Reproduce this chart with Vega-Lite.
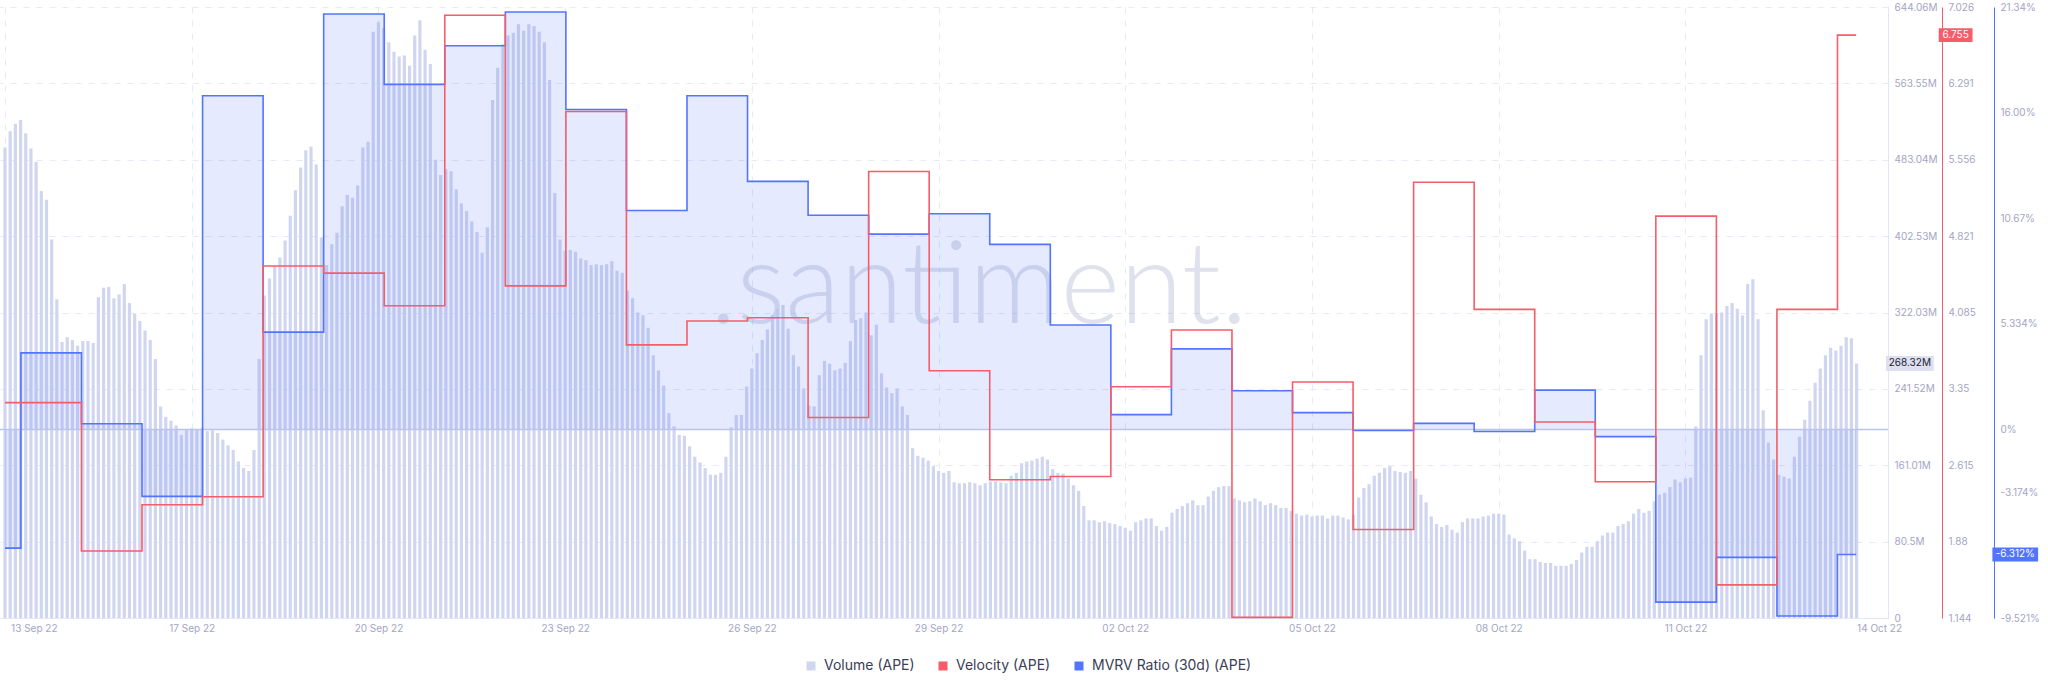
{
  "$schema": "https://vega.github.io/schema/vega-lite/v6.json",
  "width": 1888,
  "height": 611,
  "autosize": {"type": "none"},
  "padding": {"left": 0, "top": 7, "right": 160, "bottom": 75},
  "background": "white",
  "config": {
    "view": {"stroke": null},
    "font": "Inter",
    "axis": {"labelFont": "Inter", "labelFontSize": 10, "labelColor": "#a4a5c5", "ticks": false, "title": null, "domainColor": "#e3e6f5", "gridColor": "#e6e9f6", "gridDash": [6, 7]}
  },
  "datasets": {
    "volume": [
      {"t":"2022-09-14T00:00","v":496},{"t":"2022-09-14T02:00","v":513},{"t":"2022-09-14T04:00","v":521},{"t":"2022-09-14T06:00","v":525},{"t":"2022-09-14T08:00","v":511},{"t":"2022-09-14T10:00","v":495},{"t":"2022-09-14T12:00","v":481},{"t":"2022-09-14T14:00","v":450},{"t":"2022-09-14T16:00","v":441},{"t":"2022-09-14T18:00","v":399},{"t":"2022-09-14T20:00","v":336},{"t":"2022-09-14T22:00","v":291},
      {"t":"2022-09-15T00:00","v":296},{"t":"2022-09-15T02:00","v":293},{"t":"2022-09-15T04:00","v":287},{"t":"2022-09-15T06:00","v":292},{"t":"2022-09-15T08:00","v":292},{"t":"2022-09-15T10:00","v":290},{"t":"2022-09-15T12:00","v":338},{"t":"2022-09-15T14:00","v":348},{"t":"2022-09-15T16:00","v":349},{"t":"2022-09-15T18:00","v":337},{"t":"2022-09-15T20:00","v":341},{"t":"2022-09-15T22:00","v":352},
      {"t":"2022-09-16T00:00","v":332},{"t":"2022-09-16T02:00","v":321},{"t":"2022-09-16T04:00","v":313},{"t":"2022-09-16T06:00","v":303},{"t":"2022-09-16T08:00","v":293},{"t":"2022-09-16T10:00","v":273},{"t":"2022-09-16T12:00","v":223},{"t":"2022-09-16T14:00","v":212},{"t":"2022-09-16T16:00","v":208},{"t":"2022-09-16T18:00","v":203},{"t":"2022-09-16T20:00","v":193},{"t":"2022-09-16T22:00","v":198},
      {"t":"2022-09-17T00:00","v":200},{"t":"2022-09-17T02:00","v":199},{"t":"2022-09-17T04:00","v":200},{"t":"2022-09-17T06:00","v":197},{"t":"2022-09-17T08:00","v":198},{"t":"2022-09-17T10:00","v":195},{"t":"2022-09-17T12:00","v":188},{"t":"2022-09-17T14:00","v":182},{"t":"2022-09-17T16:00","v":177},{"t":"2022-09-17T18:00","v":165},{"t":"2022-09-17T20:00","v":158},{"t":"2022-09-17T22:00","v":155},
      {"t":"2022-09-18T00:00","v":177},{"t":"2022-09-18T02:00","v":273},{"t":"2022-09-18T04:00","v":340},{"t":"2022-09-18T06:00","v":358},{"t":"2022-09-18T08:00","v":371},{"t":"2022-09-18T10:00","v":380},{"t":"2022-09-18T12:00","v":398},{"t":"2022-09-18T14:00","v":424},{"t":"2022-09-18T16:00","v":451},{"t":"2022-09-18T18:00","v":475},{"t":"2022-09-18T20:00","v":493},{"t":"2022-09-18T22:00","v":497},
      {"t":"2022-09-19T00:00","v":478},{"t":"2022-09-19T02:00","v":401},{"t":"2022-09-19T04:00","v":372},{"t":"2022-09-19T06:00","v":394},{"t":"2022-09-19T08:00","v":406},{"t":"2022-09-19T10:00","v":434},{"t":"2022-09-19T12:00","v":446},{"t":"2022-09-19T14:00","v":443},{"t":"2022-09-19T16:00","v":456},{"t":"2022-09-19T18:00","v":496},{"t":"2022-09-19T20:00","v":502},{"t":"2022-09-19T22:00","v":618},
      {"t":"2022-09-20T00:00","v":628},{"t":"2022-09-20T02:00","v":622},{"t":"2022-09-20T04:00","v":607},{"t":"2022-09-20T06:00","v":597},{"t":"2022-09-20T08:00","v":592},{"t":"2022-09-20T10:00","v":593},{"t":"2022-09-20T12:00","v":582},{"t":"2022-09-20T14:00","v":614},{"t":"2022-09-20T16:00","v":630},{"t":"2022-09-20T18:00","v":599},{"t":"2022-09-20T20:00","v":584},{"t":"2022-09-20T22:00","v":483},
      {"t":"2022-09-21T00:00","v":467},{"t":"2022-09-21T02:00","v":473},{"t":"2022-09-21T04:00","v":471},{"t":"2022-09-21T06:00","v":452},{"t":"2022-09-21T08:00","v":437},{"t":"2022-09-21T10:00","v":429},{"t":"2022-09-21T12:00","v":418},{"t":"2022-09-21T14:00","v":407},{"t":"2022-09-21T16:00","v":385},{"t":"2022-09-21T18:00","v":412},{"t":"2022-09-21T20:00","v":546},{"t":"2022-09-21T22:00","v":580},
      {"t":"2022-09-22T00:00","v":605},{"t":"2022-09-22T02:00","v":614},{"t":"2022-09-22T04:00","v":617},{"t":"2022-09-22T06:00","v":626},{"t":"2022-09-22T08:00","v":619},{"t":"2022-09-22T10:00","v":626},{"t":"2022-09-22T12:00","v":624},{"t":"2022-09-22T14:00","v":618},{"t":"2022-09-22T16:00","v":607},{"t":"2022-09-22T18:00","v":567},{"t":"2022-09-22T20:00","v":448},{"t":"2022-09-22T22:00","v":399},
      {"t":"2022-09-23T00:00","v":387},{"t":"2022-09-23T02:00","v":388},{"t":"2022-09-23T04:00","v":386},{"t":"2022-09-23T06:00","v":379},{"t":"2022-09-23T08:00","v":377},{"t":"2022-09-23T10:00","v":372},{"t":"2022-09-23T12:00","v":373},{"t":"2022-09-23T14:00","v":372},{"t":"2022-09-23T16:00","v":373},{"t":"2022-09-23T18:00","v":376},{"t":"2022-09-23T20:00","v":366},{"t":"2022-09-23T22:00","v":364},
      {"t":"2022-09-24T00:00","v":345},{"t":"2022-09-24T02:00","v":337},{"t":"2022-09-24T04:00","v":322},{"t":"2022-09-24T06:00","v":319},{"t":"2022-09-24T08:00","v":306},{"t":"2022-09-24T10:00","v":277},{"t":"2022-09-24T12:00","v":261},{"t":"2022-09-24T14:00","v":245},{"t":"2022-09-24T16:00","v":216},{"t":"2022-09-24T18:00","v":202},{"t":"2022-09-24T20:00","v":193},{"t":"2022-09-24T22:00","v":192},
      {"t":"2022-09-25T00:00","v":181},{"t":"2022-09-25T02:00","v":170},{"t":"2022-09-25T04:00","v":164},{"t":"2022-09-25T06:00","v":158},{"t":"2022-09-25T08:00","v":151},{"t":"2022-09-25T10:00","v":151},{"t":"2022-09-25T12:00","v":153},{"t":"2022-09-25T14:00","v":170},{"t":"2022-09-25T16:00","v":201},{"t":"2022-09-25T18:00","v":214},{"t":"2022-09-25T20:00","v":214},{"t":"2022-09-25T22:00","v":244},
      {"t":"2022-09-26T00:00","v":263},{"t":"2022-09-26T02:00","v":279},{"t":"2022-09-26T04:00","v":293},{"t":"2022-09-26T06:00","v":304},{"t":"2022-09-26T08:00","v":319},{"t":"2022-09-26T10:00","v":326},{"t":"2022-09-26T12:00","v":330},{"t":"2022-09-26T14:00","v":305},{"t":"2022-09-26T16:00","v":277},{"t":"2022-09-26T18:00","v":265},{"t":"2022-09-26T20:00","v":242},{"t":"2022-09-26T22:00","v":224},
      {"t":"2022-09-27T00:00","v":223},{"t":"2022-09-27T02:00","v":256},{"t":"2022-09-27T04:00","v":271},{"t":"2022-09-27T06:00","v":268},{"t":"2022-09-27T08:00","v":261},{"t":"2022-09-27T10:00","v":263},{"t":"2022-09-27T12:00","v":269},{"t":"2022-09-27T14:00","v":292},{"t":"2022-09-27T16:00","v":314},{"t":"2022-09-27T18:00","v":316},{"t":"2022-09-27T20:00","v":322},{"t":"2022-09-27T22:00","v":298},
      {"t":"2022-09-28T00:00","v":309},{"t":"2022-09-28T02:00","v":258},{"t":"2022-09-28T04:00","v":243},{"t":"2022-09-28T06:00","v":237},{"t":"2022-09-28T08:00","v":242},{"t":"2022-09-28T10:00","v":223},{"t":"2022-09-28T12:00","v":214},{"t":"2022-09-28T14:00","v":179},{"t":"2022-09-28T16:00","v":171},{"t":"2022-09-28T18:00","v":169},{"t":"2022-09-28T20:00","v":166},{"t":"2022-09-28T22:00","v":160},
      {"t":"2022-09-29T00:00","v":155},{"t":"2022-09-29T02:00","v":153},{"t":"2022-09-29T04:00","v":155},{"t":"2022-09-29T06:00","v":143},{"t":"2022-09-29T08:00","v":142},{"t":"2022-09-29T10:00","v":142},{"t":"2022-09-29T12:00","v":143},{"t":"2022-09-29T14:00","v":142},{"t":"2022-09-29T16:00","v":140},{"t":"2022-09-29T18:00","v":142},{"t":"2022-09-29T20:00","v":144},{"t":"2022-09-29T22:00","v":144},
      {"t":"2022-09-30T00:00","v":143},{"t":"2022-09-30T02:00","v":142},{"t":"2022-09-30T04:00","v":150},{"t":"2022-09-30T06:00","v":153},{"t":"2022-09-30T08:00","v":163},{"t":"2022-09-30T10:00","v":165},{"t":"2022-09-30T12:00","v":166},{"t":"2022-09-30T14:00","v":168},{"t":"2022-09-30T16:00","v":170},{"t":"2022-09-30T18:00","v":167},{"t":"2022-09-30T20:00","v":157},{"t":"2022-09-30T22:00","v":153},
      {"t":"2022-10-01T00:00","v":152},{"t":"2022-10-01T02:00","v":147},{"t":"2022-10-01T04:00","v":140},{"t":"2022-10-01T06:00","v":134},{"t":"2022-10-01T08:00","v":118},{"t":"2022-10-01T10:00","v":103},{"t":"2022-10-01T12:00","v":103},{"t":"2022-10-01T14:00","v":101},{"t":"2022-10-01T16:00","v":102},{"t":"2022-10-01T18:00","v":100},{"t":"2022-10-01T20:00","v":99},{"t":"2022-10-01T22:00","v":97},
      {"t":"2022-10-02T00:00","v":95},{"t":"2022-10-02T02:00","v":92},{"t":"2022-10-02T04:00","v":101},{"t":"2022-10-02T06:00","v":103},{"t":"2022-10-02T08:00","v":105},{"t":"2022-10-02T10:00","v":105},{"t":"2022-10-02T12:00","v":97},{"t":"2022-10-02T14:00","v":92},{"t":"2022-10-02T16:00","v":96},{"t":"2022-10-02T18:00","v":111},{"t":"2022-10-02T20:00","v":115},{"t":"2022-10-02T22:00","v":118},
      {"t":"2022-10-03T00:00","v":121},{"t":"2022-10-03T02:00","v":124},{"t":"2022-10-03T04:00","v":119},{"t":"2022-10-03T06:00","v":119},{"t":"2022-10-03T08:00","v":128},{"t":"2022-10-03T10:00","v":134},{"t":"2022-10-03T12:00","v":138},{"t":"2022-10-03T14:00","v":139},{"t":"2022-10-03T16:00","v":139},{"t":"2022-10-03T18:00","v":126},{"t":"2022-10-03T20:00","v":124},{"t":"2022-10-03T22:00","v":122},
      {"t":"2022-10-04T00:00","v":123},{"t":"2022-10-04T02:00","v":126},{"t":"2022-10-04T04:00","v":123},{"t":"2022-10-04T06:00","v":119},{"t":"2022-10-04T08:00","v":121},{"t":"2022-10-04T10:00","v":119},{"t":"2022-10-04T12:00","v":116},{"t":"2022-10-04T14:00","v":116},{"t":"2022-10-04T16:00","v":113},{"t":"2022-10-04T18:00","v":110},{"t":"2022-10-04T20:00","v":108},{"t":"2022-10-04T22:00","v":109},
      {"t":"2022-10-05T00:00","v":107},{"t":"2022-10-05T02:00","v":108},{"t":"2022-10-05T04:00","v":108},{"t":"2022-10-05T06:00","v":105},{"t":"2022-10-05T08:00","v":108},{"t":"2022-10-05T10:00","v":108},{"t":"2022-10-05T12:00","v":106},{"t":"2022-10-05T14:00","v":104},{"t":"2022-10-05T16:00","v":109},{"t":"2022-10-05T18:00","v":127},{"t":"2022-10-05T20:00","v":137},{"t":"2022-10-05T22:00","v":141},
      {"t":"2022-10-06T00:00","v":150},{"t":"2022-10-06T02:00","v":153},{"t":"2022-10-06T04:00","v":158},{"t":"2022-10-06T06:00","v":160},{"t":"2022-10-06T08:00","v":155},{"t":"2022-10-06T10:00","v":154},{"t":"2022-10-06T12:00","v":153},{"t":"2022-10-06T14:00","v":155},{"t":"2022-10-06T16:00","v":147},{"t":"2022-10-06T18:00","v":130},{"t":"2022-10-06T20:00","v":122},{"t":"2022-10-06T22:00","v":107},
      {"t":"2022-10-07T00:00","v":99},{"t":"2022-10-07T02:00","v":96},{"t":"2022-10-07T04:00","v":98},{"t":"2022-10-07T06:00","v":93},{"t":"2022-10-07T08:00","v":90},{"t":"2022-10-07T10:00","v":101},{"t":"2022-10-07T12:00","v":105},{"t":"2022-10-07T14:00","v":105},{"t":"2022-10-07T16:00","v":105},{"t":"2022-10-07T18:00","v":107},{"t":"2022-10-07T20:00","v":108},{"t":"2022-10-07T22:00","v":110},
      {"t":"2022-10-08T00:00","v":110},{"t":"2022-10-08T02:00","v":109},{"t":"2022-10-08T04:00","v":88},{"t":"2022-10-08T06:00","v":84},{"t":"2022-10-08T08:00","v":81},{"t":"2022-10-08T10:00","v":71},{"t":"2022-10-08T12:00","v":62},{"t":"2022-10-08T14:00","v":62},{"t":"2022-10-08T16:00","v":59},{"t":"2022-10-08T18:00","v":58},{"t":"2022-10-08T20:00","v":58},{"t":"2022-10-08T22:00","v":55},
      {"t":"2022-10-09T00:00","v":55},{"t":"2022-10-09T02:00","v":55},{"t":"2022-10-09T04:00","v":57},{"t":"2022-10-09T06:00","v":61},{"t":"2022-10-09T08:00","v":69},{"t":"2022-10-09T10:00","v":75},{"t":"2022-10-09T12:00","v":75},{"t":"2022-10-09T14:00","v":81},{"t":"2022-10-09T16:00","v":87},{"t":"2022-10-09T18:00","v":90},{"t":"2022-10-09T20:00","v":90},{"t":"2022-10-09T22:00","v":97},
      {"t":"2022-10-10T00:00","v":99},{"t":"2022-10-10T02:00","v":102},{"t":"2022-10-10T04:00","v":110},{"t":"2022-10-10T06:00","v":115},{"t":"2022-10-10T08:00","v":111},{"t":"2022-10-10T10:00","v":113},{"t":"2022-10-10T12:00","v":123},{"t":"2022-10-10T14:00","v":130},{"t":"2022-10-10T16:00","v":132},{"t":"2022-10-10T18:00","v":138},{"t":"2022-10-10T20:00","v":146},{"t":"2022-10-10T22:00","v":143},
      {"t":"2022-10-11T00:00","v":147},{"t":"2022-10-11T02:00","v":148},{"t":"2022-10-11T04:00","v":202},{"t":"2022-10-11T06:00","v":277},{"t":"2022-10-11T08:00","v":315},{"t":"2022-10-11T10:00","v":321},{"t":"2022-10-11T12:00","v":321},{"t":"2022-10-11T14:00","v":322},{"t":"2022-10-11T16:00","v":329},{"t":"2022-10-11T18:00","v":332},{"t":"2022-10-11T20:00","v":326},{"t":"2022-10-11T22:00","v":319},
      {"t":"2022-10-12T00:00","v":352},{"t":"2022-10-12T02:00","v":357},{"t":"2022-10-12T04:00","v":315},{"t":"2022-10-12T06:00","v":219},{"t":"2022-10-12T08:00","v":185},{"t":"2022-10-12T10:00","v":167},{"t":"2022-10-12T12:00","v":151},{"t":"2022-10-12T14:00","v":149},{"t":"2022-10-12T16:00","v":147},{"t":"2022-10-12T18:00","v":170},{"t":"2022-10-12T20:00","v":191},{"t":"2022-10-12T22:00","v":209},
      {"t":"2022-10-13T00:00","v":229},{"t":"2022-10-13T02:00","v":248},{"t":"2022-10-13T04:00","v":263},{"t":"2022-10-13T06:00","v":277},{"t":"2022-10-13T08:00","v":285},{"t":"2022-10-13T10:00","v":282},{"t":"2022-10-13T12:00","v":287},{"t":"2022-10-13T14:00","v":296},{"t":"2022-10-13T16:00","v":295},{"t":"2022-10-13T18:00","v":268.32}
    ],
    "steps": [
      {"t":"2022-09-14T00:00","velocity":3.217,"mvrv":-5.99},
      {"t":"2022-09-14T06:08","velocity":3.217,"mvrv":3.87},
      {"t":"2022-09-15T05:29","velocity":1.789,"mvrv":0.29},
      {"t":"2022-09-16T04:50","velocity":2.234,"mvrv":-3.38},
      {"t":"2022-09-17T04:11","velocity":2.311,"mvrv":16.86},
      {"t":"2022-09-18T03:32","velocity":4.533,"mvrv":4.92},
      {"t":"2022-09-19T02:53","velocity":4.464,"mvrv":20.99},
      {"t":"2022-09-20T02:14","velocity":4.150,"mvrv":17.43},
      {"t":"2022-09-21T01:35","velocity":6.947,"mvrv":19.38},
      {"t":"2022-09-22T00:56","velocity":4.341,"mvrv":21.09},
      {"t":"2022-09-23T00:17","velocity":6.02,"mvrv":16.16},
      {"t":"2022-09-23T23:38","velocity":3.773,"mvrv":11.06},
      {"t":"2022-09-24T22:59","velocity":4.003,"mvrv":16.86},
      {"t":"2022-09-25T22:20","velocity":4.034,"mvrv":12.53},
      {"t":"2022-09-26T21:41","velocity":3.074,"mvrv":10.82},
      {"t":"2022-09-27T21:02","velocity":5.442,"mvrv":9.87},
      {"t":"2022-09-28T20:23","velocity":3.524,"mvrv":10.90},
      {"t":"2022-09-29T19:44","velocity":2.475,"mvrv":9.35},
      {"t":"2022-09-30T19:05","velocity":2.506,"mvrv":5.28},
      {"t":"2022-10-01T18:26","velocity":3.370,"mvrv":0.75},
      {"t":"2022-10-02T17:47","velocity":3.916,"mvrv":4.07},
      {"t":"2022-10-03T17:08","velocity":1.15,"mvrv":1.96},
      {"t":"2022-10-04T16:29","velocity":3.416,"mvrv":0.85},
      {"t":"2022-10-05T15:50","velocity":1.996,"mvrv":-0.05},
      {"t":"2022-10-06T15:11","velocity":5.339,"mvrv":0.31},
      {"t":"2022-10-07T14:32","velocity":4.115,"mvrv":-0.10},
      {"t":"2022-10-08T13:53","velocity":3.031,"mvrv":1.99},
      {"t":"2022-10-09T13:14","velocity":2.456,"mvrv":-0.36},
      {"t":"2022-10-10T12:35","velocity":5.013,"mvrv":-8.72},
      {"t":"2022-10-11T11:56","velocity":1.463,"mvrv":-6.46},
      {"t":"2022-10-12T11:17","velocity":4.115,"mvrv":-9.42},
      {"t":"2022-10-13T10:38","velocity":6.755,"mvrv":-6.312},
      {"t":"2022-10-13T17:50","velocity":6.755,"mvrv":-6.312}
    ]
  },
  "resolve": {"scale": {"y": "independent"}},
  "layer": [
    {
      "layer": [
        {
          "data": {"values": [{}]},
          "mark": {"type": "text", "text": ".santiment.", "font": "Lato", "fontWeight": 300, "fontSize": 114, "align": "center", "baseline": "alphabetic", "color": "#a4aac8", "opacity": 0.34},
          "encoding": {
            "x": {"datum": {"year": 2022, "month": 9, "date": 29, "hours": 15, "minutes": 30}, "type": "temporal"},
            "y": {"datum": 311, "type": "quantitative"}
          }
        },
        {
          "data": {"name": "volume"},
          "mark": {"type": "bar", "size": 3.2},
          "encoding": {
            "x": {
              "field": "t", "type": "temporal",
              "scale": {"domain": [{"year": 2022, "month": 9, "date": 14}, {"year": 2022, "month": 10, "date": 14, "hours": 4, "minutes": 11}]},
              "axis": {
                "values": [
                  {"year": 2022, "month": 9, "date": 14},
                  {"year": 2022, "month": 9, "date": 14, "hours": 11, "minutes": 7},
                  {"year": 2022, "month": 9, "date": 17},
                  {"year": 2022, "month": 9, "date": 20},
                  {"year": 2022, "month": 9, "date": 23},
                  {"year": 2022, "month": 9, "date": 26},
                  {"year": 2022, "month": 9, "date": 29},
                  {"year": 2022, "month": 10, "date": 2},
                  {"year": 2022, "month": 10, "date": 5},
                  {"year": 2022, "month": 10, "date": 8},
                  {"year": 2022, "month": 10, "date": 11},
                  {"year": 2022, "month": 10, "date": 14, "hours": 2, "minutes": 40}
                ],
                "labelExpr": "datum.value < datetime(2022, 8, 14, 1) ? '' : (datum.value < datetime(2022, 8, 15) ? '13 Sep 22' : timeFormat(datum.value, '%d %b %y'))",
                "labelFlush": false,
                "labelOverlap": false,
                "labelPadding": 5,
                "grid": true,
                "gridOpacity": {"condition": {"test": "(datum.value > datetime(2022, 8, 14, 5) && datum.value < datetime(2022, 8, 15)) || datum.value > datetime(2022, 9, 13)", "value": 0}, "value": 1},
                "domain": true,
                "domainColor": "#e3e6f5"
              }
            },
            "y": {
              "field": "v", "type": "quantitative",
              "scale": {"domain": [0, 644.06], "nice": false},
              "axis": {
                "orient": "right", "offset": 0,
                "values": [0, 80.5, 161.01, 241.52, 322.03, 402.53, 483.04, 563.55, 644.06],
                "labelExpr": "datum.value == 0 ? '0' : datum.value + 'M'",
                "labelPadding": 6, "grid": true, "domainColor": "#e3e6f5"
              }
            },
            "color": {
              "datum": "Volume (APE)",
              "scale": {"domain": ["Volume (APE)", "Velocity (APE)", "MVRV Ratio (30d) (APE)"], "range": ["#d0d6ef", "#f45d69", "#5275ff"]},
              "legend": {"orient": "none", "legendX": 804, "legendY": 652, "direction": "horizontal", "title": null, "symbolType": "square", "symbolSize": 81, "symbolStrokeWidth": 0, "labelFontSize": 14, "labelFont": "Inter", "labelColor": "#3b3d55", "columnPadding": 21, "labelOffset": 6}
            }
          }
        },
        {
          "data": {"values": [{}]},
          "mark": {"type": "rect", "color": "#dde0f1"},
          "encoding": {
            "x": {"datum": {"year": 2022, "month": 10, "date": 14, "hours": 5, "minutes": 20}, "type": "temporal"},
            "x2": {"datum": {"year": 2022, "month": 10, "date": 14, "hours": 23, "minutes": 44}},
            "y": {"datum": 260.4, "type": "quantitative"},
            "y2": {"datum": 276.2}
          }
        },
        {
          "data": {"values": [{}]},
          "mark": {"type": "text", "text": "268.32M", "fontSize": 10, "font": "Inter", "color": "#1d1e2c", "align": "center", "baseline": "middle"},
          "encoding": {
            "x": {"datum": {"year": 2022, "month": 10, "date": 14, "hours": 14, "minutes": 32}, "type": "temporal"},
            "y": {"datum": 268.32, "type": "quantitative"}
          }
        }
      ]
    },
    {
      "layer": [
        {
          "data": {"name": "steps"},
          "mark": {"type": "area", "interpolate": "step-after", "color": "#5275ff", "fillOpacity": 0.15},
          "encoding": {
            "x": {"field": "t", "type": "temporal"},
            "y": {
              "field": "mvrv", "type": "quantitative",
              "scale": {"domain": [-9.521, 21.34], "nice": false, "zero": false},
              "axis": {
                "orient": "right", "offset": 106,
                "values": [21.34, 16, 10.67, 5.334, 0, -3.174, -9.521],
                "labelExpr": "datum.value == 0 ? '0%' : replace(format(datum.value, '.4r'), '\u2212', '-') + '%'",
                "labelPadding": 6, "grid": false, "domainColor": "#5275ff"
              }
            },
            "y2": {"datum": 0}
          }
        },
        {
          "data": {"values": [{}]},
          "mark": {"type": "rule", "color": "#bcc3ec", "strokeWidth": 1.5},
          "encoding": {"y": {"datum": 0, "type": "quantitative"}}
        },
        {
          "data": {"name": "steps"},
          "mark": {"type": "line", "interpolate": "step-after", "strokeWidth": 1.6},
          "encoding": {
            "x": {"field": "t", "type": "temporal"},
            "y": {"field": "mvrv", "type": "quantitative"},
            "color": {"datum": "MVRV Ratio (30d) (APE)"}
          }
        },
        {
          "data": {"values": [{}]},
          "mark": {"type": "rect", "color": "#5275ff"},
          "encoding": {
            "x": {"datum": {"year": 2022, "month": 10, "date": 15, "hours": 22, "minutes": 22}, "type": "temporal"},
            "x2": {"datum": {"year": 2022, "month": 10, "date": 16, "hours": 16, "minutes": 0}},
            "y": {"datum": -6.666, "type": "quantitative"},
            "y2": {"datum": -5.958}
          }
        },
        {
          "data": {"values": [{}]},
          "mark": {"type": "text", "text": "-6.312%", "fontSize": 10, "font": "Inter", "color": "#ffffff", "align": "center", "baseline": "middle"},
          "encoding": {
            "x": {"datum": {"year": 2022, "month": 10, "date": 16, "hours": 7, "minutes": 12}, "type": "temporal"},
            "y": {"datum": -6.312, "type": "quantitative"}
          }
        }
      ]
    },
    {
      "layer": [
        {
          "data": {"name": "steps"},
          "mark": {"type": "line", "interpolate": "step-after", "strokeWidth": 1.6},
          "encoding": {
            "x": {"field": "t", "type": "temporal"},
            "y": {
              "field": "velocity", "type": "quantitative",
              "scale": {"domain": [1.144, 7.026], "nice": false, "zero": false},
              "axis": {
                "orient": "right", "offset": 54,
                "values": [1.144, 1.88, 2.615, 3.35, 4.085, 4.821, 5.556, 6.291, 7.026],
                "format": ".4~r",
                "labelPadding": 6, "grid": false, "domainColor": "#f45d69"
              }
            },
            "color": {"datum": "Velocity (APE)"}
          }
        },
        {
          "data": {"values": [{}]},
          "mark": {"type": "rect", "color": "#f45d69"},
          "encoding": {
            "x": {"datum": {"year": 2022, "month": 10, "date": 15, "hours": 1, "minutes": 40}, "type": "temporal"},
            "x2": {"datum": {"year": 2022, "month": 10, "date": 15, "hours": 14, "minutes": 43}},
            "y": {"datum": 6.688, "type": "quantitative"},
            "y2": {"datum": 6.822}
          }
        },
        {
          "data": {"values": [{}]},
          "mark": {"type": "text", "text": "6.755", "fontSize": 10, "font": "Inter", "color": "#ffffff", "align": "center", "baseline": "middle"},
          "encoding": {
            "x": {"datum": {"year": 2022, "month": 10, "date": 15, "hours": 8, "minutes": 11}, "type": "temporal"},
            "y": {"datum": 6.755, "type": "quantitative"}
          }
        }
      ]
    }
  ]
}
